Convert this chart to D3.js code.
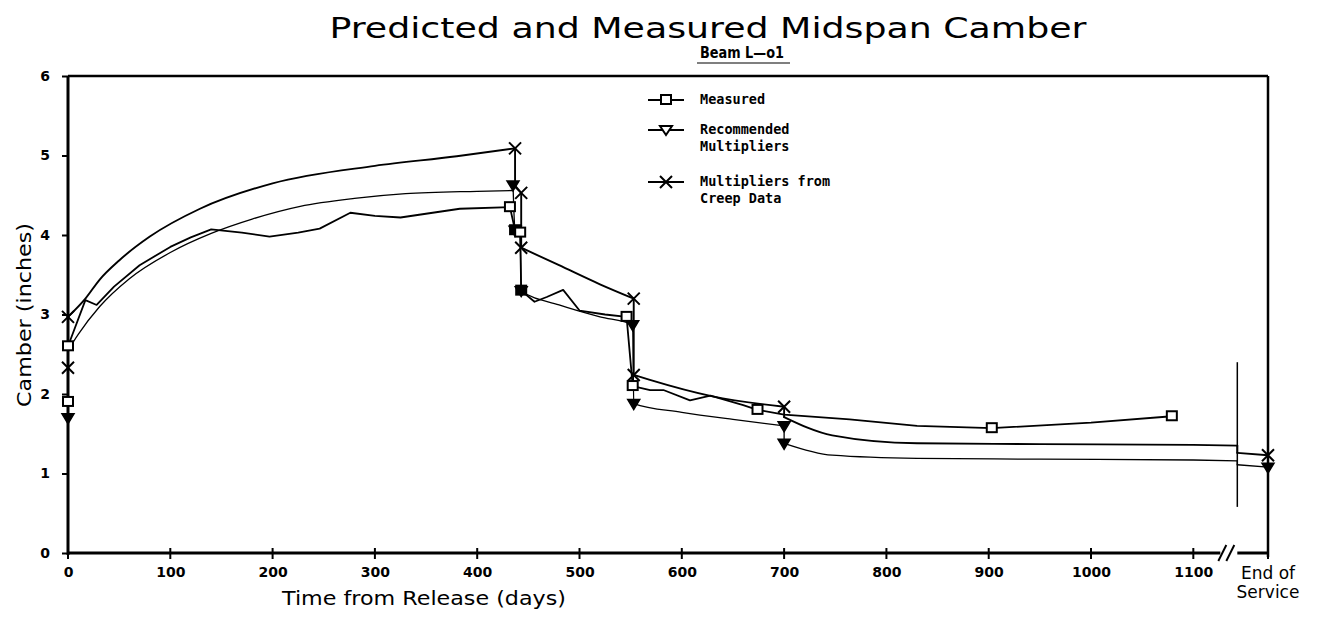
<!DOCTYPE html>
<html><head><meta charset="utf-8">
<script src="https://cdn.jsdelivr.net/npm/d3@7"></script>
<style>body{margin:0;background:#fff}</style>
</head><body><svg id="c" width="1322" height="620"></svg>
<script>
// ---------- data ----------
const END_OF_SERVICE = 1173;   // position of the "End of Service" reading on the day axis
const BREAK_DAY = 1143;        // axis break
const xTickValues = [0,100,200,300,400,500,600,700,800,900,1000,1100];
const xTickLabels = ["0","100","200","300","400","500","600","700","800","900","1000","1100"];
const yTickValues = [0,1,2,3,4,5,6];
const seriesNames = ["Measured", ["Recommended","Multipliers"], ["Multipliers from","Creep Data"]];

const measuredDays   = [0,0,17,28,45,70,100,120,140,170,197,225,246,276,300,325,383,432,437,442,443,456,468,484,500,525,546,552,569,582,608,628,660,674,700,764,830,903,1000,1079];
const measuredCamber = [1.9,2.6,3.18,3.12,3.35,3.62,3.85,3.97,4.07,4.03,3.98,4.03,4.08,4.28,4.24,4.22,4.33,4.35,4.06,4.03,3.3,3.16,3.22,3.31,3.05,3.0,2.97,2.1,2.05,2.05,1.92,1.98,1.86,1.8,1.74,1.68,1.6,1.57,1.64,1.72];
const measuredMarker = [1,1,0,0,0,0,0,0,0,0,0,0,0,0,0,0,0,1,2,1,2,0,0,0,0,0,1,1,0,0,0,0,0,1,0,0,0,1,0,1];

const recDays   = [0,0,10,31,60,100,140,180,227,280,330,400,435,435,437,442,443,480,520,552,553,600,650,700,700,747,830,950,1100,BREAK_DAY,BREAK_DAY,END_OF_SERVICE];
const recCamber = [1.7,2.55,2.75,3.1,3.45,3.78,4.02,4.2,4.36,4.46,4.52,4.55,4.56,4.63,4.06,4.0,3.3,3.12,2.97,2.87,1.88,1.77,1.68,1.6,1.38,1.23,1.19,1.18,1.17,1.16,1.11,1.08];
const recMarker = [1,0,0,0,0,0,0,0,0,0,0,0,0,1,1,0,1,0,0,1,1,0,0,1,1,0,0,0,0,0,0,1];

const creepDays   = [0,0,17,31,50,80,129,200,300,380,437,437,443,443,480,520,553,553,568,630,700,700,747,830,950,1100,BREAK_DAY,BREAK_DAY,END_OF_SERVICE];
const creepCamber = [2.33,2.97,3.2,3.44,3.68,3.98,4.33,4.65,4.87,4.99,5.09,4.62,4.53,3.84,3.62,3.38,3.2,2.24,2.18,1.97,1.84,1.71,1.48,1.38,1.37,1.36,1.35,1.26,1.23];
const creepMarker = [1,1,0,0,0,0,0,0,0,0,1,0,1,1,0,0,1,1,0,0,1,0,0,0,0,0,0,0,1];

const separatorRange = [0.58, 2.4];   // vertical mark at the axis break (camber, inches)

// ---------- drawing ----------
const svg = d3.select("#c");
const x = d3.scaleLinear().domain([0, END_OF_SERVICE]).range([68, 1268]);
const y = d3.scaleLinear().domain([0, 6]).range([553, 76]);
const font = "'DejaVu Sans', 'Liberation Sans', sans-serif";

// title
svg.append("text").attr("x", 708).attr("y", 38).attr("text-anchor","middle")
  .attr("font-family", font).attr("font-size", 29).attr("textLength", 757).attr("lengthAdjust","spacingAndGlyphs")
  .text("Predicted and Measured Midspan Camber");
svg.append("text").attr("x", 742).attr("y", 58).attr("text-anchor","middle")
  .attr("font-family", font).attr("font-size", 16).attr("font-weight","600").attr("textLength", 84).attr("lengthAdjust","spacingAndGlyphs")
  .text("Beam L\u2014o1");
svg.append("line").attr("x1",697).attr("x2",790).attr("y1",63).attr("y2",63).attr("stroke","#000").attr("stroke-width",1.2);

// frame
const frame = svg.append("g").attr("stroke","#000").attr("fill","none");
frame.append("line").attr("x1",x(0)).attr("x2",x(END_OF_SERVICE)).attr("y1",y(6)).attr("y2",y(6)).attr("stroke-width",2.5);
frame.append("line").attr("x1",x(END_OF_SERVICE)).attr("x2",x(END_OF_SERVICE)).attr("y1",y(6)).attr("y2",y(0)+4).attr("stroke-width",2.5);
frame.append("line").attr("x1",x(0)).attr("x2",x(0)).attr("y1",y(6)).attr("y2",y(0)+2).attr("stroke-width",3);
frame.append("line").attr("x1",x(0)).attr("x2",x(BREAK_DAY)-17).attr("y1",y(0)).attr("y2",y(0)).attr("stroke-width",3);
frame.append("line").attr("x1",x(BREAK_DAY)).attr("x2",x(END_OF_SERVICE)).attr("y1",y(0)).attr("y2",y(0)).attr("stroke-width",3);
// axis break marks
[-14,-6].forEach(o => frame.append("line").attr("x1",x(BREAK_DAY)+o-5).attr("x2",x(BREAK_DAY)+o+3)
  .attr("y1",y(0)+8).attr("y2",y(0)-8).attr("stroke-width",2));

// x ticks
const xAxis = d3.axisBottom(x).tickValues(xTickValues).tickFormat((d,i)=>xTickLabels[i]).tickSize(0).tickPadding(14);
const gx = svg.append("g").attr("transform",`translate(0,${y(0)})`).call(xAxis);
gx.select(".domain").remove();
gx.selectAll("text").attr("font-family",font).attr("font-size",14).attr("font-weight","bold");
svg.append("g").selectAll("line").data(xTickValues.concat([END_OF_SERVICE])).join("line")
  .attr("x1",d=>x(d)).attr("x2",d=>x(d)).attr("y1",y(0)-5).attr("y2",y(0)+6).attr("stroke","#000").attr("stroke-width",2);
const eos = svg.append("text").attr("text-anchor","middle").attr("font-family",font).attr("font-size",17);
eos.append("tspan").attr("x",x(END_OF_SERVICE)).attr("y",579).text("End of");
eos.append("tspan").attr("x",x(END_OF_SERVICE)).attr("y",598).text("Service");

// y ticks
const yAxis = d3.axisLeft(y).tickValues(yTickValues).tickFormat(d3.format("d")).tickSize(6).tickPadding(12);
const gy = svg.append("g").attr("transform",`translate(${x(0)},0)`).call(yAxis);
gy.select(".domain").remove();
gy.selectAll("line").attr("stroke-width",2);
gy.selectAll("text").attr("font-family",font).attr("font-size",14).attr("font-weight","bold");

// axis titles
svg.append("text").attr("x",424).attr("y",605).attr("text-anchor","middle").attr("font-family",font)
  .attr("font-size",20).attr("textLength",284).attr("lengthAdjust","spacingAndGlyphs").text("Time from Release (days)");
svg.append("text").attr("transform","translate(31,315) rotate(-90)").attr("text-anchor","middle").attr("font-family",font)
  .attr("font-size",20).attr("textLength",184).attr("lengthAdjust","spacingAndGlyphs").text("Camber (inches)");

// separator at break
svg.append("line").attr("x1",x(BREAK_DAY)).attr("x2",x(BREAK_DAY)).attr("y1",y(separatorRange[0])).attr("y2",y(separatorRange[1]))
  .attr("stroke","#000").attr("stroke-width",1.5);

// lines
const straight = d3.line().x(d=>x(d[0])).y(d=>y(d[1]));
const smooth = d3.line().x(d=>x(d[0])).y(d=>y(d[1])).curve(d3.curveMonotoneX);
function draw(pts, width, gen) {
  svg.append("path").datum(pts).attr("d", gen).attr("fill","none").attr("stroke","#000")
    .attr("stroke-width", width).attr("stroke-linejoin","round").attr("stroke-linecap","round");
}
// smooth runs between jumps; jumps (same day) drawn straight
function smoothSeries(days, vals, width) {
  const pts = days.map((d,i)=>[d, vals[i]]);
  let run = [pts[0]];
  for (let i = 1; i < pts.length; i++) {
    if (pts[i][0] === run[run.length-1][0]) {
      if (run.length > 1) draw(run, width, smooth);
      draw([run[run.length-1], pts[i]], width, straight);
      run = [pts[i]];
    } else run.push(pts[i]);
  }
  if (run.length > 1) draw(run, width, smooth);
  return pts;
}
const recPts = smoothSeries(recDays, recCamber, 1.3);
const measPts = measuredDays.map((d,i)=>[d, measuredCamber[i]]);
draw(measPts, 1.8, straight);
const creepPts = smoothSeries(creepDays, creepCamber, 1.9);

// markers
function square(g, cx, cy, filled) {
  g.append("rect").attr("x",cx-5).attr("y",cy-5).attr("width",10).attr("height",9)
    .attr("fill", filled ? "#000" : "#fff").attr("stroke","#000").attr("stroke-width",2);
}
function tri(g, cx, cy) {
  g.append("path").attr("d",`M${cx-6},${cy-4}L${cx+6},${cy-4}L${cx},${cy+6}Z`)
    .attr("fill","#000").attr("stroke","#000").attr("stroke-width",1.5);
}
function cross(g, cx, cy) {
  g.append("path").attr("d",`M${cx-6},${cy-6}L${cx+6},${cy+6}M${cx-6},${cy+6}L${cx+6},${cy-6}`)
    .attr("stroke","#000").attr("stroke-width",2).attr("fill","none");
}
const mg = svg.append("g");
recPts.forEach((p,i)=>{ if (recMarker[i]) tri(mg, x(p[0]), y(p[1])); });
creepPts.forEach((p,i)=>{ if (creepMarker[i]) cross(mg, x(p[0]), y(p[1])); });
measPts.forEach((p,i)=>{ if (measuredMarker[i]) square(mg, x(p[0]), y(p[1]), measuredMarker[i]===2); });

// legend
const lg = svg.append("g").attr("font-family","'DejaVu Sans Mono', 'Liberation Mono', monospace").attr("font-size",13.5).attr("font-weight","bold");
const legendY = [100, 130, 182];
const markerFns = [(g,cx,cy)=>square(g,cx,cy,false), (g,cx,cy)=>{
  g.append("path").attr("d",`M${cx-6},${cy-4}L${cx+6},${cy-4}L${cx},${cy+5}Z`).attr("fill","#fff").attr("stroke","#000").attr("stroke-width",2);
}, cross];
seriesNames.forEach((n,i)=>{
  lg.append("line").attr("x1",648).attr("x2",684).attr("y1",legendY[i]).attr("y2",legendY[i]).attr("stroke","#000").attr("stroke-width",2);
  markerFns[i](lg, 666, legendY[i]);
  const lines = Array.isArray(n) ? n : [n];
  lines.forEach((t,j)=> lg.append("text").attr("x",700).attr("y",legendY[i]+4+j*17).text(t));
});
</script>
</body></html>
